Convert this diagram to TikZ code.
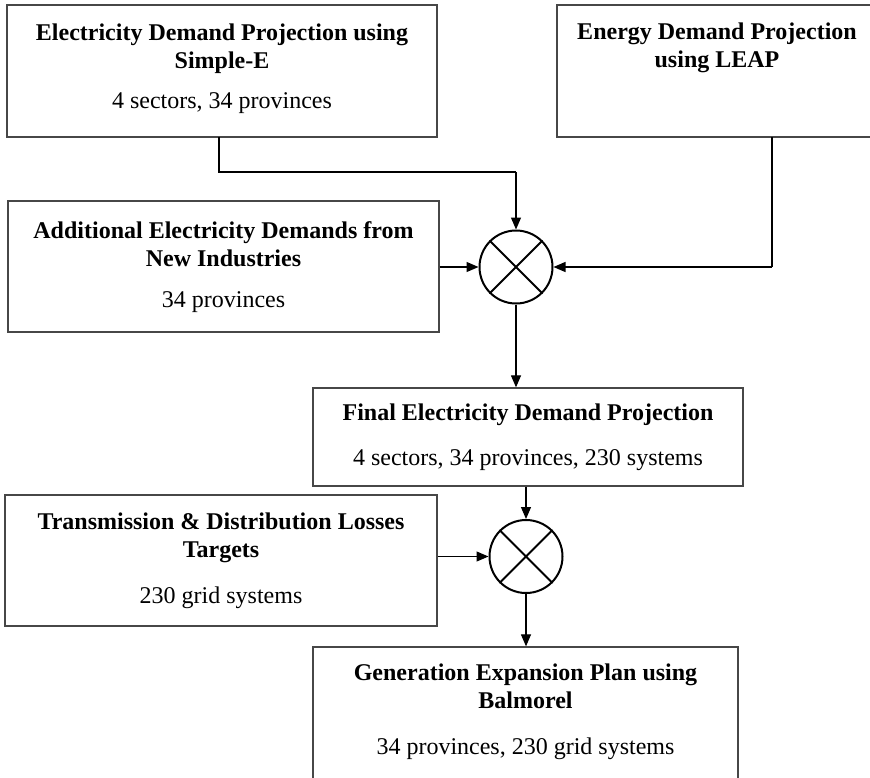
\documentclass[tikz,border=0pt]{standalone}
\usepackage{fontspec}
\setmainfont{Liberation Serif}
\usetikzlibrary{arrows.meta}
\tikzset{
  box/.style={draw=black!72, line width=1.3pt, rectangle, inner sep=0pt, fill=none},
  ttl/.style={font=\fontsize{24}{28}\selectfont\bfseries, inner sep=0pt, anchor=base},
  sub/.style={font=\fontsize{24}{28}\selectfont, inner sep=0pt, anchor=base},
  joint/.style={draw=black, line width=2pt, circle, minimum size=73pt, inner sep=0pt},
  xline/.style={line width=2pt},
  conn/.style={line width=1.2pt, -{Triangle[length=12pt,width=10pt]}},
  plain/.style={line width=1.2pt},
  heavy/.style={line width=2.2pt}
}
\begin{document}
\begin{tikzpicture}[x=1pt,y=-1pt]
\useasboundingbox (0,0) rectangle (870,777);
\clip (0,0) rectangle (870,777);
\fill[white] (0,0) rectangle (870,777);

% boxes
\node[box, minimum width=430pt, minimum height=132pt] (b1) at (222,71) {};
\node[ttl] at (222,40) {Electricity Demand Projection using};
\node[ttl] at (222,68) {Simple-E};
\node[sub] at (222,108) {4 sectors, 34 provinces};

\node[box, minimum width=320pt, minimum height=132pt] (leap) at (717,71) {};
\node[ttl] at (717,39) {Energy Demand Projection};
\node[ttl] at (717,67) {using LEAP};

\node[box, minimum width=431pt, minimum height=131pt] (add) at (223.5,266.5) {};
\node[ttl] at (223.5,238) {Additional Electricity Demands from};
\node[ttl] at (223.5,266) {New Industries};
\node[sub] at (223.5,307) {34 provinces};

\node[box, minimum width=430pt, minimum height=98pt] (fin) at (528,437) {};
\node[ttl] at (528,420) {Final Electricity Demand Projection};
\node[sub] at (528,465) {4 sectors, 34 provinces, 230 systems};

\node[box, minimum width=432pt, minimum height=131pt] (td) at (221,560.5) {};
\node[ttl] at (221,529) {Transmission \& Distribution Losses};
\node[ttl] at (221,557) {Targets};
\node[sub] at (221,603) {230 grid systems};

\node[box, minimum width=425pt, minimum height=153pt] (gen) at (525.5,723.5) {};
\node[ttl] at (525.5,680) {Generation Expansion Plan using};
\node[ttl] at (525.5,708) {Balmorel};
\node[sub] at (525.5,754) {34 provinces, 230 grid systems};

% junctions
\node[joint] (c1) at (516,267) {};
\draw[xline] (c1.north west) -- (c1.south east) (c1.north east) -- (c1.south west);
\node[joint] (c2) at (526,556.5) {};
\draw[xline] (c2.north west) -- (c2.south east) (c2.north east) -- (c2.south west);

% connectors
\coordinate (s1) at (219,137);
\coordinate (k1) at (516,172);
\draw[heavy] (s1) |- (k1);
\draw[conn] (k1) -- (c1.north);

\coordinate (s2) at (772,137);
\draw[plain] (s2) -- (s2 |- c1.east);
\draw[conn] (s2 |- c1.east) -- (c1.east);

\draw[conn] (add.east |- c1.west) -- (c1.west);
\draw[conn] (c1.south) -- (c1.south |- fin.north);
\draw[conn] (c2.north |- fin.south) -- (c2.north);
\draw[conn] (td.east |- c2.west) -- (c2.west);
\draw[conn] (c2.south) -- (c2.south |- gen.north);
\end{tikzpicture}
\end{document}
